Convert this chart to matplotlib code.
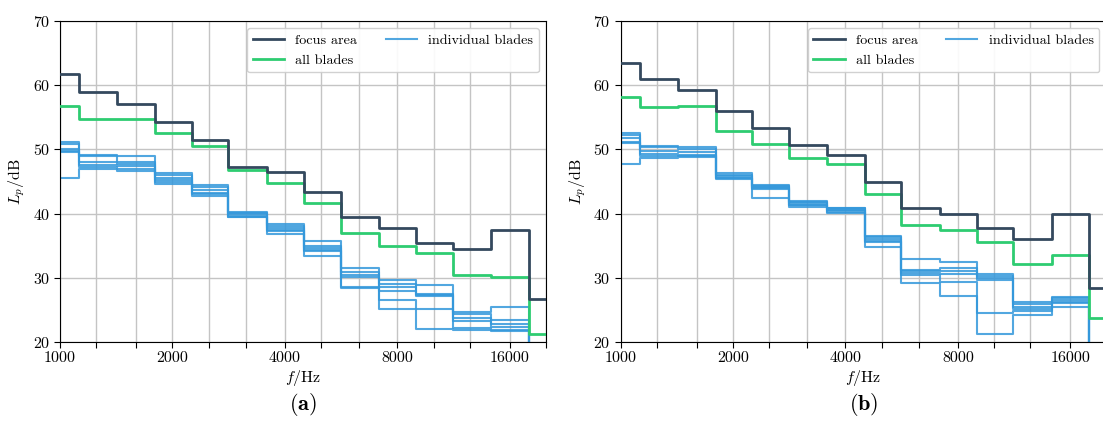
import numpy as np
import matplotlib
matplotlib.use("Agg")
import matplotlib.pyplot as plt

plt.rcParams['font.family'] = 'serif'
plt.rcParams['font.serif'] = ['cmr10']
plt.rcParams['mathtext.fontset'] = 'cm'
plt.rcParams['axes.formatter.use_mathtext'] = True
plt.rcParams['axes.unicode_minus'] = False

# third-octave band centres
freqs = [1000, 1250, 1600, 2000, 2500, 3150, 4000, 5000, 6300, 8000, 10000, 12500, 16000, 20000]
xlabels = ['1000', '', '', '2000', '', '', '4000', '', '', '8000', '', '', '16000', '']

# panel (a)
focus_a = [61.8, 58.9, 57.05, 54.2, 51.5, 47.2, 46.5, 43.3, 39.5, 37.7, 35.4, 34.5, 37.4, 26.7]
all_a = [56.8, 54.75, 54.7, 52.6, 50.6, 46.8, 44.8, 41.6, 37.0, 35.0, 33.8, 30.4, 30.2, 21.2]
# rows = bands, columns = blades
blades_a = [
    [51.1, 50.8, 50.0, 49.8, 49.6, 45.5],
    [49.2, 48.9, 48.0, 47.6, 47.2, 46.9],
    [48.9, 48.1, 47.8, 47.4, 47.0, 46.7],
    [46.3, 46.0, 45.6, 45.3, 45.0, 44.6],
    [44.4, 44.1, 43.6, 43.2, 43.0, 42.7],
    [40.3, 40.1, 39.9, 39.7, 39.5, 39.4],
    [38.4, 38.1, 37.7, 37.5, 37.3, 36.8],
    [35.8, 35.0, 34.6, 34.4, 34.2, 33.4],
    [31.5, 30.9, 30.5, 30.1, 28.6, 28.4],
    [29.7, 29.0, 28.5, 28.0, 26.6, 25.1],
    [28.9, 27.5, 27.3, 27.2, 25.2, 22.1],
    [24.7, 24.3, 23.8, 23.3, 22.2, 21.9],
    [25.5, 23.4, 22.8, 22.4, 21.9, 21.7],
    [12.0, 12.0, 12.0, 12.0, 12.0, 12.0],
]

# panel (b)
focus_b = [63.4, 61.0, 59.2, 56.0, 53.4, 50.7, 49.1, 45.0, 40.9, 40.0, 37.7, 36.0, 39.9, 28.4]
all_b = [58.2, 56.6, 56.8, 52.9, 50.9, 48.6, 47.7, 43.0, 38.2, 37.5, 35.5, 32.1, 33.6, 23.8]
blades_b = [
    [52.6, 52.2, 51.8, 51.1, 51.0, 47.8],
    [50.6, 50.3, 49.7, 49.3, 48.9, 48.6],
    [50.4, 50.1, 49.6, 49.2, 49.0, 48.8],
    [46.3, 46.0, 45.8, 45.6, 45.5, 45.4],
    [44.5, 44.3, 44.1, 44.0, 43.9, 42.5],
    [42.0, 41.8, 41.6, 41.4, 41.3, 41.1],
    [40.9, 40.8, 40.6, 40.5, 40.3, 40.1],
    [36.5, 36.3, 36.0, 35.8, 35.6, 34.8],
    [33.0, 31.2, 31.0, 30.8, 30.4, 29.2],
    [32.4, 31.5, 31.1, 30.6, 29.3, 27.2],
    [30.6, 30.3, 30.0, 29.6, 24.5, 21.2],
    [26.3, 25.9, 25.5, 25.1, 24.8, 24.2],
    [27.0, 26.9, 26.6, 26.3, 26.1, 25.5],
    [12.0, 12.0, 12.0, 12.0, 12.0, 12.0],
]

c_focus = '#34495e'
c_all = '#2ecc71'
c_blade = '#3498db'

fig = plt.figure(figsize=(11.03, 4.33), dpi=100)
ax_a = fig.add_axes([60 / 1103, 91 / 433, 486 / 1103, 321 / 433])
ax_b = fig.add_axes([620.5 / 1103, 91 / 433, 486 / 1103, 321 / 433])


def draw_panel(ax, focus, allb, blades, tag):
    blades = np.array(blades)
    for i in range(blades.shape[1]):
        ax.step(freqs, blades[:, i], where='mid', color=c_blade, lw=1.5, alpha=0.85,
                label='individual blades' if i == 0 else None, zorder=2)
    ax.step(freqs, allb, where='mid', color=c_all, lw=2, label='all blades', zorder=3)
    ax.step(freqs, focus, where='mid', color=c_focus, lw=2, label='focus area', zorder=4)

    ax.set_xscale('log')
    ax.set_xlim(1000, 20000)
    ax.set_ylim(20, 70)
    ax.xaxis.set_minor_locator(matplotlib.ticker.NullLocator())
    ax.set_xticks(freqs)
    ax.set_xticklabels(xlabels)
    ax.set_yticks([20, 30, 40, 50, 60, 70])
    ax.tick_params(labelsize=11.5, length=4, width=0.8, pad=3)
    ax.grid(True, color='#c4c4c4', lw=1)
    ax.set_axisbelow(True)
    ax.set_xlabel(r'$f/\mathrm{Hz}$', fontsize=11.5, labelpad=2)
    ax.set_ylabel(r'$L_p/\mathrm{dB}$', fontsize=11.5, labelpad=4)

    h, l = ax.get_legend_handles_labels()
    order = [l.index('focus area'), l.index('all blades'), l.index('individual blades')]
    ax.legend([h[k] for k in order], [l[k] for k in order], ncol=2, loc='upper right',
              fontsize=10.2, framealpha=0.9, columnspacing=2.0, handlelength=2.2)
    ax.text(0.5, -0.195, r'($\mathbf{' + tag + '}$)', transform=ax.transAxes,
            ha='center', va='center', fontsize=16)


draw_panel(ax_a, focus_a, all_a, blades_a, 'a')
draw_panel(ax_b, focus_b, all_b, blades_b, 'b')

fig.savefig('out.png', dpi=100)
